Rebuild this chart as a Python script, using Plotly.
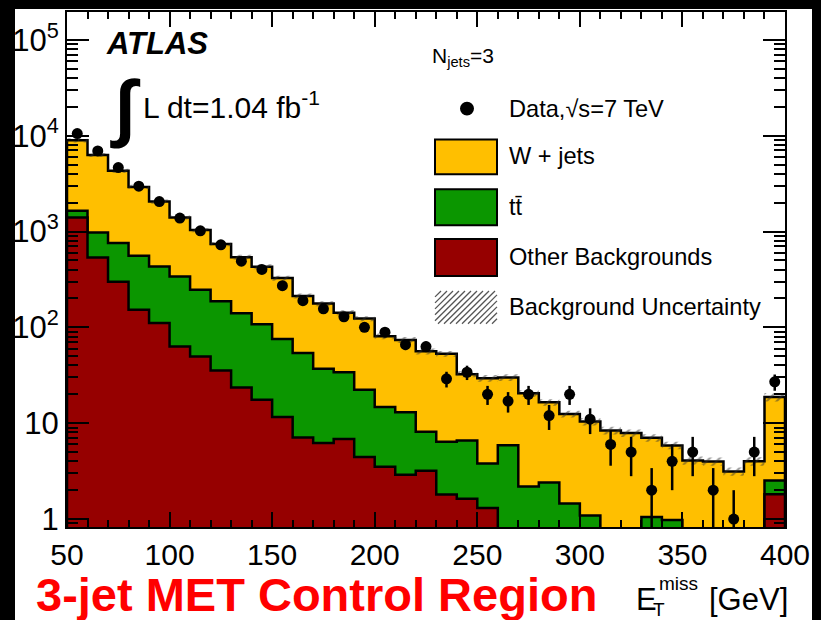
import plotly.graph_objects as go

# ---------------- data ----------------
bin_edges = list(range(50, 401, 10))          # E_T^miss bins [GeV]

data_counts = [10500, 6930, 4640, 2970, 2050, 1380, 1017, 727, 490, 402,
               272, 190, 156, 129, 100, 89, 66, 63, 29, 34,
               20, 17, 20, 12, 20, 11, 6, 5, 2, 4,
               5, 2, 1, 5, 27]
err_up = [102.5, 83.2, 68.1, 54.5, 45.3, 37.1, 31.9, 27.0, 22.1, 20.0,
          16.5, 13.8, 12.5, 11.4, 10.0, 9.4, 8.1, 7.9, 5.4, 5.8,
          4.5, 4.1, 4.5, 3.5, 4.5, 3.3, 2.4, 2.2, 1.4, 2.0,
          2.2, 1.4, 1.0, 2.2, 5.2]
err_dn = [102.5, 83.2, 68.1, 54.5, 45.3, 37.1, 31.9, 27.0, 22.1, 20.0,
          16.5, 13.8, 12.5, 11.4, 10.0, 9.4, 8.1, 7.9, 5.4, 5.8,
          4.5, 4.1, 4.5, 3.5, 4.5, 3.3, 2.4, 2.2, 1.4, 2.0,
          2.2, 1.4, 0.99, 2.2, 5.2]

other_bkg = [1400, 535, 299, 153, 111, 63, 49.5, 35.4, 23.6, 17.6,
             11.6, 7.1, 6.2, 6.85, 4.45, 3.52, 2.9, 3.2, 1.8, 1.63,
             1.3, 0, 0, 0, 0, 0, 0, 0, 0, 0,
             0, 0, 0, 0, 1.81]
ttbar = [244, 442, 458, 405, 321, 277, 197, 152, 117, 90,
         64, 47, 30.7, 27.2, 17.9, 11.2, 10.1, 4.95, 4.6, 4.97,
         2.5, 5.9, 2.19, 2.4, 1.45, 1.09, 0, 0, 1.05, 0.98,
         0, 0, 0, 0, 0.72]
wjets = [7306, 5313, 3533, 2362, 1618, 1060, 788, 553, 399, 321,
         251, 158, 140, 108, 101, 66, 61, 48, 46.6, 25.9,
         25.6, 24.1, 18.3, 14.1, 11.05, 9.31, 8.4, 7.9, 6.0, 4.88,
         4.09, 3.99, 3.14, 4.0, 16.2]
bkg_unc_frac = [0.05, 0.05, 0.05, 0.05, 0.05, 0.05, 0.05, 0.05, 0.06, 0.06,
                0.06, 0.06, 0.06, 0.06, 0.06, 0.07, 0.07, 0.07, 0.07, 0.07,
                0.08, 0.08, 0.08, 0.08, 0.08, 0.09, 0.09, 0.09, 0.09, 0.09,
                0.10, 0.10, 0.10, 0.10, 0.10]

y_tickvals = [1, 10, 100, 1000, 10000, 100000]
y_ticktext = ["1", "10", "10<sup>2</sup>", "10<sup>3</sup>", "10<sup>4</sup>", "10<sup>5</sup>"]
x_tickvals = [50, 100, 150, 200, 250, 300, 350, 400]

# ---------------- styling ----------------
C_W = "#FFBF00"
C_TT = "#0B9600"
C_OTH = "#960000"
FONT = "Liberation Sans, Arial, Helvetica, sans-serif"
FLOOR = 0.3
X_RANGE = [50, 400]
Y_RANGE = [-0.083, 5.29]

centers = [(a + b) / 2 for a, b in zip(bin_edges[:-1], bin_edges[1:])]
lvl_other = list(other_bkg)
lvl_tt = [o + t for o, t in zip(other_bkg, ttbar)]
lvl_tot = [o + t + w for o, t, w in zip(other_bkg, ttbar, wjets)]


def step_xy(levels):
    xs, ys = [], []
    for i, v in enumerate(levels):
        v = v if v > 0 else FLOOR
        xs += [bin_edges[i], bin_edges[i + 1]]
        ys += [v, v]
    return xs, ys


def closed(levels):
    xs, ys = step_xy(levels)
    xs = [bin_edges[0]] + xs + [bin_edges[-1], bin_edges[0]]
    ys = [FLOOR] + ys + [FLOOR, FLOOR]
    return xs, ys


fig = go.Figure()
for lv, col in [(lvl_tot, C_W), (lvl_tt, C_TT), (lvl_other, C_OTH)]:
    xs, ys = closed(lv)
    fig.add_trace(go.Scatter(x=xs, y=ys, mode="lines", fill="toself", fillcolor=col,
                             line=dict(color="black", width=2.5), hoverinfo="skip",
                             showlegend=False))

# uncertainty band
up = [t * (1 + u) for t, u in zip(lvl_tot, bkg_unc_frac)]
lo = [t * (1 - u) for t, u in zip(lvl_tot, bkg_unc_frac)]
xu, yu = step_xy(up)
xl, yl = step_xy(lo)
fig.add_trace(go.Scatter(x=xu + xl[::-1] + [xu[0]], y=yu + yl[::-1] + [yu[0]], mode="lines",
                         fill="toself", fillcolor="rgba(0,0,0,0)",
                         fillpattern=dict(shape="/", fgcolor="#333333", bgcolor="rgba(0,0,0,0)",
                                          size=7, solidity=0.3, fillmode="overlay"),
                         line=dict(width=0, color="rgba(0,0,0,0)"), hoverinfo="skip",
                         showlegend=False))

# data
fig.add_trace(go.Scatter(x=centers, y=data_counts, mode="markers",
                         marker=dict(color="black", size=11),
                         error_y=dict(type="data", symmetric=False, array=err_up,
                                      arrayminus=err_dn, color="black", thickness=2.5, width=0),
                         showlegend=False))

# invisible trace on the mirrored (top/right) axes so their ticks are drawn
fig.add_trace(go.Scatter(x=[None], y=[None], xaxis="x2", yaxis="y2", mode="markers",
                         showlegend=False, hoverinfo="skip"))

# ---------------- layout helpers (pixel -> paper) ----------------
L, R, T, B = 67, 785, 10, 527
W, H = 821, 620


def PX(px):
    return (px - L) / (R - L)


def PY(py):
    return (B - py) / (B - T)


shapes = [dict(type="rect", xref="paper", yref="paper", x0=PX(15), x1=PX(812), y0=PY(625),
               y1=PY(7), fillcolor="white", line=dict(width=0), layer="below")]
annos = []


def text(px, py, s, size, color="black", xanchor="left"):
    annos.append(dict(xref="paper", yref="paper", x=PX(px), y=PY(py), text=s, showarrow=False,
                      xanchor=xanchor, yanchor="middle", font=dict(family=FONT, size=size, color=color)))


text(104, 42, "<b><i>ATLAS</i></b>", 31)
text(108, 105, "<b>∫</b>", 74)
text(141, 103, "L dt=1.04 fb<sup>-1</sup>", 30)
text(430, 55, "N<sub>jets</sub>=3", 21)

# legend
shapes.append(dict(type="circle", xref="paper", yref="paper", x0=PX(460), x1=PX(474), y0=PY(114),
                   y1=PY(100), fillcolor="black", line=dict(width=0)))
for (y0, y1, col) in [(138, 173, C_W), (188, 224, C_TT), (238, 275, C_OTH)]:
    shapes.append(dict(type="rect", xref="paper", yref="paper", x0=PX(435), x1=PX(497),
                       y0=PY(y1), y1=PY(y0), fillcolor=col, line=dict(color="black", width=2)))
# hatched legend box
hx0, hx1, hy0, hy1 = 435, 497, 290, 323
hh = hy1 - hy0
k = hx0 - hh
while k < hx1:
    sx, sy = k, hy1
    ex, ey = k + hh, hy0
    if sx < hx0:
        sy = hy1 - (hx0 - sx)
        sx = hx0
    if ex > hx1:
        ey = hy0 + (ex - hx1)
        ex = hx1
    if ex > sx:
        shapes.append(dict(type="line", xref="paper", yref="paper", x0=PX(sx), y0=PY(sy),
                           x1=PX(ex), y1=PY(ey), line=dict(color="#555555", width=1.3)))
    k += 6

LEG = 23.6
text(507, 107, "Data,√s=7 TeV", LEG)
text(507, 155, "W + jets", LEG)
text(507, 206, "tt\u0304", LEG)
text(507, 256, "Other Backgrounds", LEG)
text(507, 306, "Background Uncertainty", LEG)

# bottom texts
text(34, 595, "<b>3-jet MET Control Region</b>", 47, color="#FF0000")
text(634, 600, "E", 31)
text(657, 584, "miss", 19)
text(651, 610, "T", 19)
text(707, 600, "[GeV]", 31)

axis_common = dict(showline=True, linecolor="black", linewidth=2, mirror=True,
                   ticks="inside", tickcolor="black", tickwidth=2, showgrid=False,
                   zeroline=False)
x_minor = dict(dtick=10, ticks="inside", ticklen=7, tickwidth=1.5, tickcolor="black")
y_minor = dict(dtick="D1", ticks="inside", ticklen=11, tickwidth=1.5, tickcolor="black")

fig.update_layout(
    width=W, height=H, autosize=False,
    margin=dict(l=L, r=W - R, t=T, b=H - B, pad=0),
    paper_bgcolor="black", plot_bgcolor="white",
    font=dict(family=FONT, color="black"),
    shapes=shapes, annotations=annos,
    xaxis=dict(range=X_RANGE, tickvals=x_tickvals, ticklen=15,
               tickfont=dict(size=30, family=FONT), minor=x_minor, **axis_common),
    yaxis=dict(type="log", range=Y_RANGE, tickvals=y_tickvals, ticktext=y_ticktext,
               ticklen=22, tickfont=dict(size=31, family=FONT), minor=y_minor, **axis_common),
    xaxis2=dict(overlaying="x", side="top", anchor="y", range=X_RANGE, tickvals=x_tickvals,
                ticklen=15, showticklabels=False, minor=x_minor, **axis_common),
    yaxis2=dict(overlaying="y", side="right", anchor="x", type="log", range=Y_RANGE,
                tickvals=y_tickvals, ticklen=22, showticklabels=False, minor=y_minor,
                **axis_common),
)

fig.write_html("out.html", config={"displayModeBar": False},
               post_script="document.body.style.margin='0px';document.body.style.overflow='hidden';")
